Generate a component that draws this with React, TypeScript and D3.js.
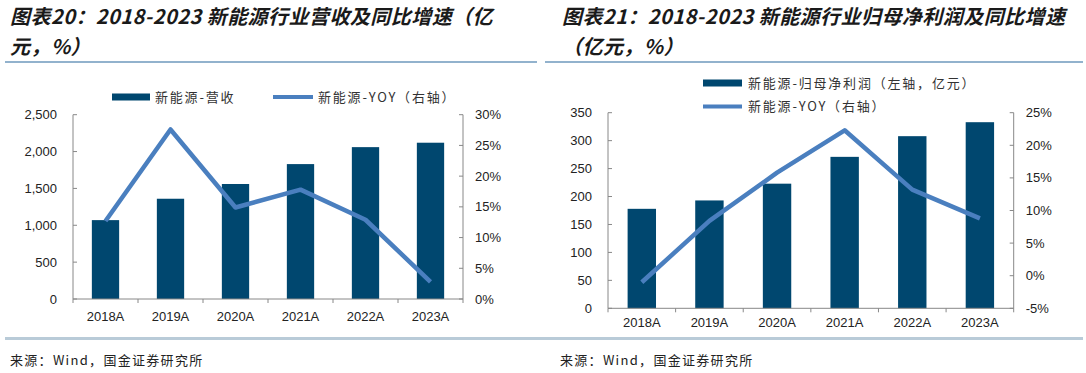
import React from 'react'
import * as d3 from 'd3'

const years = ['2018A', '2019A', '2020A', '2021A', '2022A', '2023A']
const revenue = [1070, 1360, 1560, 1830, 2060, 2120]
const revenueYoy = [12.7, 27.6, 14.9, 17.8, 12.9, 2.8]
const profit = [178, 193, 223, 271, 308, 333]
const profitYoy = [-1.0, 8.4, 15.8, 22.3, 13.2, 8.8]
const revTicks = [0, 500, 1000, 1500, 2000, 2500]
const revYoyTicks = [0, 5, 10, 15, 20, 25, 30]
const profTicks = [0, 50, 100, 150, 200, 250, 300, 350]
const profYoyTicks = [-5, 0, 5, 10, 15, 20, 25]

const W = 1086
const H = 373
const barColor = '#00476f'
const lineColor = '#4a7fbf'
const axisColor = '#888'
const cjk = '"Noto Sans CJK SC", sans-serif'
const latin = '"Liberation Sans", Arial, sans-serif'

type ChartProps = {
  x0: number
  x1: number
  yTop: number
  yBottom: number
  bars: number[]
  yoy: number[]
  leftTicks: number[]
  rightTicks: number[]
  leftFmt: (v: number) => string
  labelDy: number
}

function Combo(props: ChartProps) {
  const { x0, x1, yTop, yBottom, bars, yoy, leftTicks, rightTicks, leftFmt, labelDy } = props
  const x = d3.scaleBand().domain(years).range([x0, x1]).padding(0)
  const yL = d3.scaleLinear()
    .domain([leftTicks[0], leftTicks[leftTicks.length - 1]])
    .range([yBottom, yTop])
  const yR = d3.scaleLinear()
    .domain([rightTicks[0], rightTicks[rightTicks.length - 1]])
    .range([yBottom, yTop])
  const bw = x.bandwidth() * 0.42
  const cx = (d: string) => (x(d) as number) + x.bandwidth() / 2
  const line = d3.line<number>()
    .x((_, i) => cx(years[i]))
    .y(v => yR(v))

  return (
    <g>
      {years.map((yr, i) => (
        <rect key={yr} x={cx(yr) - bw / 2} y={yL(bars[i])} width={bw}
          height={yBottom - yL(bars[i])} fill={barColor} />
      ))}
      <path d={line(yoy) || ''} fill="none" stroke={lineColor} strokeWidth={4.5}
        strokeLinejoin="round" />
      {/* axes */}
      <line x1={x0} x2={x0} y1={yTop} y2={yBottom} stroke={axisColor} />
      <line x1={x1} x2={x1} y1={yTop} y2={yBottom} stroke={axisColor} />
      <line x1={x0} x2={x1} y1={yBottom} y2={yBottom} stroke={axisColor} />
      {leftTicks.map(t => (
        <g key={'l' + t}>
          <line x1={x0} x2={x0 + 4} y1={yL(t)} y2={yL(t)} stroke={axisColor} />
          <text x={x0 - 16} y={yL(t)} dy="0.35em" textAnchor="end"
            fontFamily={latin} fontSize={13} fill="#222">{leftFmt(t)}</text>
        </g>
      ))}
      {rightTicks.map(t => (
        <g key={'r' + t}>
          <line x1={x1 - 4} x2={x1} y1={yR(t)} y2={yR(t)} stroke={axisColor} />
          <text x={x1 + 12} y={yR(t)} dy="0.35em" textAnchor="start"
            fontFamily={latin} fontSize={13} fill="#222">{t + '%'}</text>
        </g>
      ))}
      {years.map(yr => (
        <g key={'x' + yr}>
          <line x1={x(yr)} x2={x(yr)} y1={yBottom} y2={yBottom + 4} stroke={axisColor} />
          <text x={cx(yr)} y={yBottom + labelDy} dy="0.35em" textAnchor="middle"
            fontFamily={latin} fontSize={13} fill="#222">{yr}</text>
        </g>
      ))}
      <line x1={x1} x2={x1} y1={yBottom} y2={yBottom + 4} stroke={axisColor} />
    </g>
  )
}

const titleStyle = {
  fontFamily: cjk,
  fontSize: 20,
  fontWeight: 700,
  fontStyle: 'italic' as const,
  letterSpacing: 0.45,
  fill: '#1a1a1a',
}

const legendStyle = {
  fontFamily: cjk,
  fontSize: 13,
  letterSpacing: 1.8,
  fill: '#333',
}

const sourceStyle = {
  fontFamily: cjk,
  fontSize: 13,
  letterSpacing: 1.3,
  fill: '#222',
}

export default function App() {
  const commaFmt = d3.format(',')
  return (
    <svg width={W} height={H} style={{ position: 'absolute', left: 0, top: 0, background: '#fff' }}>
      {/* titles */}
      <text x={10} y={24} style={titleStyle}>图表20：2018-2023 新能源行业营收及同比增速（亿</text>
      <text x={10} y={54} style={titleStyle}>元，%）</text>
      <text x={562} y={24} style={titleStyle}>图表21：2018-2023 新能源行业归母净利润及同比增速</text>
      <text x={562} y={54} style={titleStyle}>（亿元，%）</text>
      <line x1={5} x2={537} y1={62} y2={62} stroke="#6e98bd" strokeWidth={1.5} />
      <line x1={545} x2={1083} y1={62} y2={62} stroke="#6e98bd" strokeWidth={1.5} />

      {/* left legend */}
      <rect x={112} y={93.5} width={38} height={7} fill={barColor} />
      <text x={155} y={97} dy="0.35em" style={legendStyle}>新能源-营收</text>
      <line x1={273} x2={313} y1={97} y2={97} stroke={lineColor} strokeWidth={4} />
      <text x={318} y={97} dy="0.35em" style={legendStyle}>新能源-YOY（右轴）</text>

      {/* right legend */}
      <rect x={703} y={79.5} width={39} height={7} fill={barColor} />
      <text x={748} y={83} dy="0.35em" style={legendStyle}>新能源-归母净利润（左轴，亿元）</text>
      <line x1={703} x2={742} y1={106.5} y2={106.5} stroke={lineColor} strokeWidth={4} />
      <text x={748} y={106.5} dy="0.35em" style={legendStyle}>新能源-YOY（右轴）</text>

      <Combo x0={73} x1={463} yTop={114.7} yBottom={299} bars={revenue} yoy={revenueYoy}
        leftTicks={revTicks} rightTicks={revYoyTicks} leftFmt={commaFmt} labelDy={17} />
      <Combo x0={608} x1={1013.7} yTop={112.7} yBottom={308.3} bars={profit} yoy={profitYoy}
        leftTicks={profTicks} rightTicks={profYoyTicks} leftFmt={v => String(v)} labelDy={14} />

      {/* footer */}
      <line x1={5} x2={1083} y1={338.5} y2={338.5} stroke="#b9cbd8" strokeWidth={3} />
      <text x={10} y={360} dy="0.35em" style={sourceStyle}>来源：Wind，国金证券研究所</text>
      <text x={560} y={360} dy="0.35em" style={sourceStyle}>来源：Wind，国金证券研究所</text>
    </svg>
  )
}
